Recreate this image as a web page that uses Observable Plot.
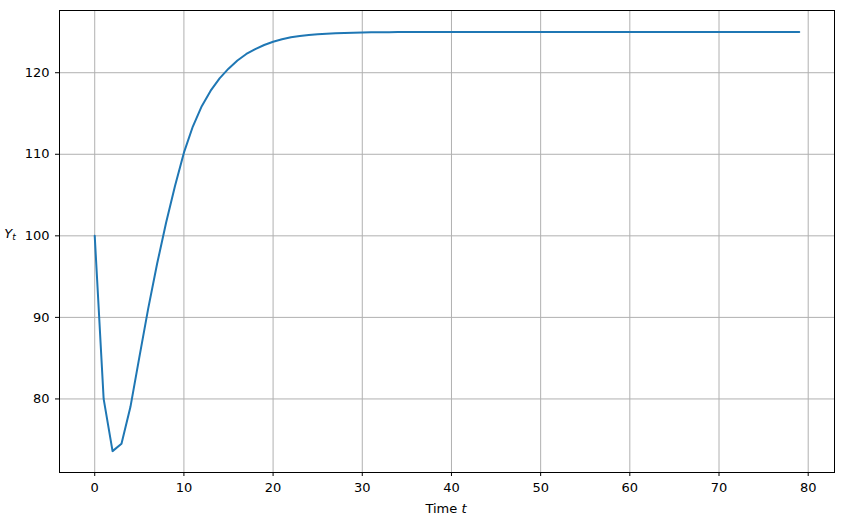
<!DOCTYPE html>
<html><head><meta charset="utf-8">
<script src="https://cdn.jsdelivr.net/npm/d3@7"></script>
<script src="https://cdn.jsdelivr.net/npm/@observablehq/plot@0.6"></script>
<style>
body{margin:0;background:#fff}
</style>
</head><body><div id="chart"></div>
<script>
// Y_t values, t = 0..79
const yValues = [
  100, 80, 73.6, 74.5, 79.0, 85.1, 91.1, 96.6, 101.6, 106.1,
  110.2, 113.4, 115.9, 117.8, 119.3, 120.5, 121.5, 122.3, 122.9, 123.4,
  123.8, 124.1, 124.35, 124.5, 124.62, 124.72, 124.79, 124.84, 124.88, 124.91,
  124.93, 124.95, 124.96, 124.97, 124.98, 124.98, 124.99, 124.99, 124.99, 125,
  125, 125, 125, 125, 125, 125, 125, 125, 125, 125,
  125, 125, 125, 125, 125, 125, 125, 125, 125, 125,
  125, 125, 125, 125, 125, 125, 125, 125, 125, 125,
  125, 125, 125, 125, 125, 125, 125, 125, 125, 125
];
const xTicks = [0, 10, 20, 30, 40, 50, 60, 70, 80];
const yTicks = [80, 90, 100, 110, 120];
const xLabel = ["Time ", "t"];
const yLabel = ["Y", "t"];

const data = yValues.map((v, i) => ({t: i, y: v}));

const chart = Plot.plot({
  width: 844,
  height: 526,
  marginLeft: 59,
  marginRight: 10,
  marginTop: 10,
  marginBottom: 54,
  style: {fontFamily: "DejaVu Sans", fontSize: "13px", color: "black", background: "white"},
  x: {domain: [-3.95, 82.95], label: null},
  y: {domain: [70.98, 127.63], label: null},
  marks: [
    Plot.gridX(xTicks, {stroke: "#b0b0b0", strokeOpacity: 1, strokeWidth: 1}),
    Plot.gridY(yTicks, {stroke: "#b0b0b0", strokeOpacity: 1, strokeWidth: 1}),
    Plot.line(data, {x: "t", y: "y", stroke: "#1f77b4", strokeWidth: 2}),
    Plot.frame({stroke: "black", strokeWidth: 1}),
    Plot.axisX(xTicks, {tickSize: 4, tickPadding: 6.5, fontSize: 13, stroke: "black", strokeWidth: 1, label: null}),
    Plot.axisY(yTicks, {tickSize: 4, tickPadding: 6, fontSize: 13, stroke: "black", strokeWidth: 1, label: null})
  ]
});
document.getElementById("chart").appendChild(chart);

const svg = d3.select(chart);
const xl = svg.append("text")
  .attr("x", 446).attr("y", 513)
  .attr("text-anchor", "middle")
  .attr("font-family", "DejaVu Sans").attr("font-size", 13).attr("fill", "black");
xl.append("tspan").text(xLabel[0]);
xl.append("tspan").attr("font-style", "italic").text(xLabel[1]);

const yl = svg.append("text")
  .attr("x", 10).attr("y", 238)
  .attr("font-family", "DejaVu Sans").attr("font-size", 13).attr("fill", "black");
yl.append("tspan").attr("font-style", "italic").text(yLabel[0]);
yl.append("tspan").attr("font-style", "italic").attr("font-size", 9).attr("dy", 2).text(yLabel[1]);
</script>
</body></html>
